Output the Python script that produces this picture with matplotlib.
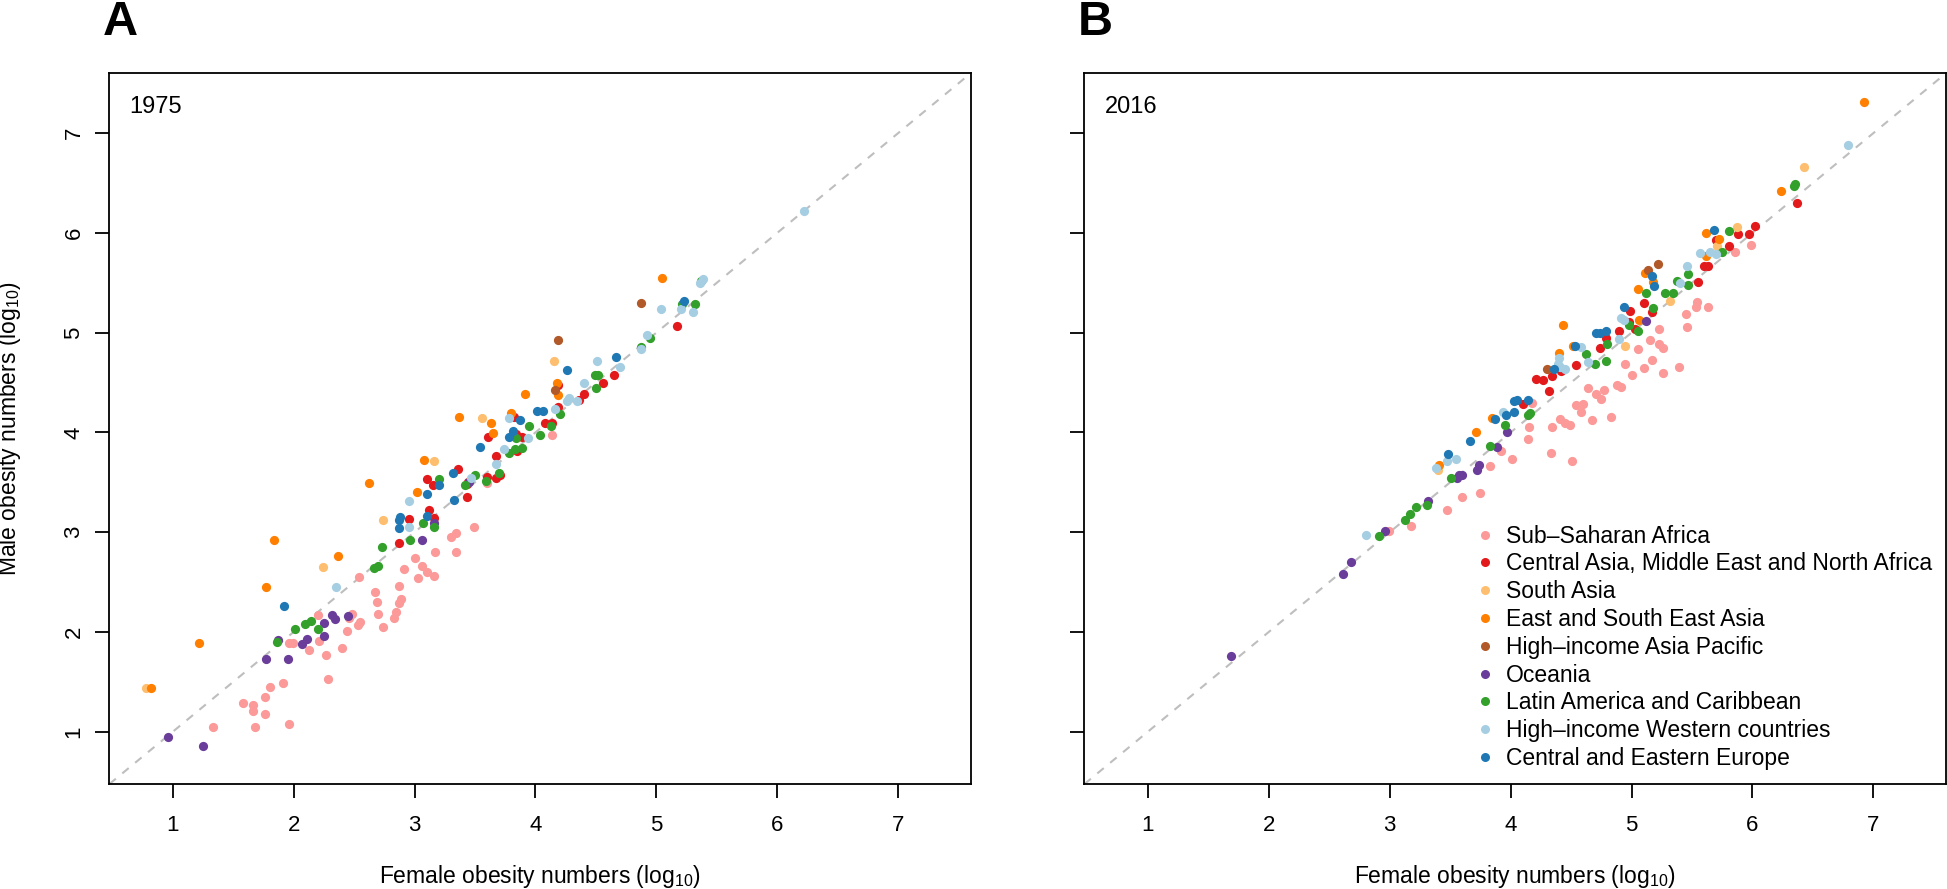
import matplotlib
matplotlib.use("Agg")
import matplotlib.pyplot as plt
from matplotlib.lines import Line2D

plt.rcParams['font.family'] = ['Liberation Sans', 'DejaVu Sans']
plt.rcParams['mathtext.fontset'] = 'custom'
plt.rcParams['mathtext.rm'] = 'Liberation Sans'
plt.rcParams['mathtext.default'] = 'regular'

regions = ['Sub\u2013Saharan Africa', 'Central Asia, Middle East and North Africa',
           'South Asia', 'East and South East Asia', 'High\u2013income Asia Pacific',
           'Oceania', 'Latin America and Caribbean', 'High\u2013income Western countries',
           'Central and Eastern Europe']
colors = ['#FB9A99', '#E31A1C', '#FDBF6F', '#FF7F00', '#B15928',
          '#6A3D9A', '#33A02C', '#A6CEE3', '#1F78B4']

# 1975: female (x) / male (y) obesity numbers, log10, per region
ssa_f_1975 = [2.54, 2.67, 2.69, 2.70, 2.74, 2.48, 2.46, 2.55, 2.53, 2.44, 2.20, 1.96, 1.99, 2.21, 2.13,
              2.27, 2.40, 2.28, 1.91, 1.80, 1.76, 1.58, 1.66, 1.66, 1.76, 1.33, 1.68, 1.96, 4.14, 3.60,
              3.30, 3.34, 3.49, 3.17, 3.34, 3.00, 3.06, 3.10, 3.03, 3.16, 2.91, 2.87, 2.89, 2.87, 2.85, 2.83]
ssa_m_1975 = [2.55, 2.40, 2.30, 2.18, 2.05, 2.18, 2.14, 2.10, 2.07, 2.01, 2.17, 1.89, 1.89, 1.91, 1.82,
              1.77, 1.84, 1.53, 1.49, 1.45, 1.35, 1.29, 1.27, 1.21, 1.18, 1.05, 1.05, 1.08, 3.97, 3.49,
              2.95, 2.99, 3.05, 2.80, 2.80, 2.74, 2.66, 2.60, 2.54, 2.56, 2.63, 2.46, 2.33, 2.29, 2.20, 2.14]
cam_f_1975 = [4.19, 4.40, 4.36, 4.19, 3.82, 4.08, 4.14, 3.61, 3.84, 3.89, 3.85, 3.67, 3.71, 3.67, 3.60,
              3.36, 3.44, 3.43, 3.10, 3.15, 3.43, 3.12, 2.95, 3.16, 2.87, 5.17, 4.65, 4.56]
cam_m_1975 = [4.48, 4.39, 4.33, 4.25, 4.15, 4.09, 4.09, 3.95, 3.98, 3.95, 3.81, 3.76, 3.57, 3.54, 3.55,
              3.63, 3.50, 3.48, 3.53, 3.47, 3.35, 3.22, 3.13, 3.14, 2.89, 5.07, 4.58, 4.50]
sa_f_1975 = [2.74, 2.24, 0.78, 4.15, 3.56, 3.16]
sa_m_1975 = [3.12, 2.65, 1.44, 4.72, 4.14, 3.71]
esea_f_1975 = [2.62, 1.84, 2.37, 1.77, 1.22, 0.82, 4.18, 4.19, 3.91, 3.80, 3.37, 3.63, 3.65, 3.08, 3.02, 5.05]
esea_m_1975 = [3.49, 2.92, 2.76, 2.45, 1.89, 1.44, 4.50, 4.38, 4.39, 4.19, 4.15, 4.09, 3.99, 3.72, 3.40, 5.55]
hiap_f_1975 = [4.19, 4.16, 4.87]
hiap_m_1975 = [4.93, 4.43, 5.30]
oce_f_1975 = [2.32, 2.34, 2.45, 2.25, 2.25, 2.11, 2.07, 1.87, 1.77, 1.95, 0.96, 1.25, 3.45, 3.16, 3.06]
oce_m_1975 = [2.17, 2.13, 2.16, 2.09, 1.96, 1.93, 1.88, 1.92, 1.73, 1.73, 0.95, 0.86, 3.50, 3.09, 2.92]
lac_f_1975 = [2.73, 2.66, 2.70, 2.01, 2.09, 2.14, 2.20, 1.86, 4.20, 4.13, 3.95, 4.04, 3.84, 3.78, 3.83,
              3.89, 3.70, 3.59, 3.50, 3.42, 3.20, 3.07, 3.16, 2.96, 5.37, 5.21, 5.32, 4.95, 4.87, 4.49,
              4.52, 4.50]
lac_m_1975 = [2.85, 2.64, 2.66, 2.03, 2.08, 2.11, 2.03, 1.90, 4.18, 4.06, 4.06, 3.97, 3.94, 3.79, 3.83,
              3.84, 3.59, 3.51, 3.57, 3.47, 3.53, 3.09, 3.05, 2.92, 5.52, 5.29, 5.29, 4.95, 4.86, 4.58,
              4.58, 4.45]
hiw_f_1975 = [2.35, 4.40, 4.28, 4.26, 4.34, 4.16, 3.78, 3.94, 3.74, 3.67, 3.47, 2.95, 2.95, 6.22, 5.39,
              5.36, 5.04, 5.20, 5.30, 4.92, 4.87, 4.51, 4.70]
hiw_m_1975 = [2.45, 4.50, 4.35, 4.31, 4.31, 4.23, 4.14, 3.94, 3.83, 3.68, 3.54, 3.31, 3.05, 6.22, 5.54,
              5.50, 5.24, 5.24, 5.21, 4.98, 4.84, 4.72, 4.66]
cee_f_1975 = [1.92, 4.26, 4.01, 4.06, 3.87, 3.81, 3.78, 3.54, 3.32, 3.20, 3.10, 3.33, 3.10, 2.87, 2.88,
              2.87, 5.23, 4.67]
cee_m_1975 = [2.26, 4.63, 4.21, 4.21, 4.12, 4.01, 3.95, 3.85, 3.59, 3.47, 3.38, 3.32, 3.16, 3.12, 3.15,
              3.04, 5.32, 4.76]

# 2016
ssa_f_2016 = [2.99, 3.18, 3.47, 3.60, 3.75, 4.18, 4.15, 4.14, 3.92, 4.01, 3.83, 4.33, 4.51, 4.34, 4.41,
              4.45, 4.49, 4.67, 4.83, 4.54, 4.58, 4.60, 4.64, 4.71, 4.77, 4.75, 4.88, 4.91, 4.95, 5.00,
              5.05, 5.10, 5.15, 5.17, 5.99, 5.86, 5.54, 5.53, 5.63, 5.45, 5.46, 5.23, 5.39, 5.26, 5.26, 5.23]
ssa_m_2016 = [3.01, 3.06, 3.22, 3.35, 3.39, 4.29, 4.05, 3.93, 3.81, 3.73, 3.66, 3.79, 3.71, 4.05, 4.13,
              4.09, 4.07, 4.12, 4.15, 4.27, 4.20, 4.28, 4.45, 4.39, 4.43, 4.34, 4.48, 4.46, 4.69, 4.58,
              4.84, 4.65, 4.93, 4.73, 5.88, 5.81, 5.31, 5.26, 5.26, 5.19, 5.06, 5.04, 4.66, 4.60, 4.85, 4.89]
cam_f_2016 = [4.10, 4.21, 4.27, 4.34, 4.42, 4.32, 4.54, 4.74, 4.79, 4.90, 4.99, 4.98, 5.03, 5.10, 6.37,
              6.02, 5.88, 5.97, 5.70, 5.81, 5.60, 5.63, 5.55, 5.17]
cam_m_2016 = [4.28, 4.54, 4.53, 4.57, 4.62, 4.42, 4.68, 4.85, 4.95, 5.02, 5.22, 5.11, 5.04, 5.30, 6.30,
              6.07, 5.99, 5.99, 5.93, 5.87, 5.67, 5.67, 5.51, 5.21]
sa_f_2016 = [4.95, 6.43, 5.87, 5.71, 5.32, 3.40]
sa_m_2016 = [4.87, 6.66, 6.06, 5.87, 5.32, 3.62]
esea_f_2016 = [3.41, 3.71, 3.85, 4.52, 4.40, 4.43, 5.06, 5.05, 5.11, 6.92, 6.24, 5.62, 5.72, 5.62, 5.18]
esea_m_2016 = [3.67, 4.00, 4.14, 4.87, 4.80, 5.08, 5.13, 5.44, 5.60, 7.31, 6.42, 6.00, 5.94, 5.77, 5.51]
hiap_f_2016 = [4.30, 5.14, 5.22]
hiap_m_2016 = [4.64, 5.63, 5.69]
oce_f_2016 = [1.69, 2.61, 2.68, 2.96, 3.32, 3.57, 3.60, 3.56, 3.72, 3.74, 3.89, 3.97, 5.12]
oce_m_2016 = [1.76, 2.58, 2.70, 3.01, 3.31, 3.57, 3.57, 3.54, 3.62, 3.67, 3.85, 4.00, 5.12]
lac_f_2016 = [2.91, 3.13, 3.17, 3.22, 3.31, 3.51, 3.83, 3.95, 4.16, 4.14, 4.70, 4.79, 4.62, 4.80, 4.98,
              5.05, 5.12, 6.34, 6.35, 5.81, 5.75, 5.47, 5.38, 5.47, 5.28, 5.34, 5.18]
lac_m_2016 = [2.96, 3.12, 3.18, 3.25, 3.27, 3.54, 3.86, 4.07, 4.19, 4.17, 4.69, 4.72, 4.79, 4.89, 5.08,
              5.02, 5.40, 6.47, 6.49, 6.02, 5.81, 5.59, 5.52, 5.48, 5.40, 5.40, 5.25]
hiw_f_2016 = [2.80, 3.38, 3.47, 3.55, 3.94, 4.64, 4.58, 4.90, 4.91, 4.94, 4.40, 4.39, 4.45, 4.41, 6.79,
              5.57, 5.65, 5.70, 5.46, 5.40]
hiw_m_2016 = [2.97, 3.64, 3.71, 3.73, 4.20, 4.71, 4.86, 4.94, 5.15, 5.13, 4.75, 4.69, 4.64, 4.66, 6.88,
              5.80, 5.81, 5.79, 5.67, 5.50]
cee_f_2016 = [3.48, 3.66, 3.87, 3.96, 4.03, 4.03, 4.05, 4.14, 4.53, 4.71, 4.74, 4.79, 4.94, 4.36, 5.68,
              5.17, 5.19]
cee_m_2016 = [3.78, 3.91, 4.13, 4.17, 4.20, 4.31, 4.33, 4.32, 4.87, 5.00, 5.00, 5.02, 5.26, 4.64, 6.03,
              5.57, 5.47]

female_1975 = [ssa_f_1975, cam_f_1975, sa_f_1975, esea_f_1975, hiap_f_1975, oce_f_1975, lac_f_1975, hiw_f_1975, cee_f_1975]
male_1975 = [ssa_m_1975, cam_m_1975, sa_m_1975, esea_m_1975, hiap_m_1975, oce_m_1975, lac_m_1975, hiw_m_1975, cee_m_1975]
female_2016 = [ssa_f_2016, cam_f_2016, sa_f_2016, esea_f_2016, hiap_f_2016, oce_f_2016, lac_f_2016, hiw_f_2016, cee_f_2016]
male_2016 = [ssa_m_2016, cam_m_2016, sa_m_2016, esea_m_2016, hiap_m_2016, oce_m_2016, lac_m_2016, hiw_m_2016, cee_m_2016]

lims = (0.475, 7.6)
ticks = [1, 2, 3, 4, 5, 6, 7]


def panel(ax, fx, my, year, ylabels=True):
    ax.plot(lims, lims, color='#BEBEBE', lw=1.5, dashes=(4, 4), zorder=1)
    for x, y, c in zip(fx, my, colors):
        ax.scatter(x, y, s=44, color=c, lw=0, zorder=2)
    ax.set_xlim(lims); ax.set_ylim(lims)
    ax.set_xticks(ticks); ax.set_yticks(ticks)
    ax.tick_params(length=10, width=1.3, labelsize=16)
    ax.tick_params(axis='x', pad=12)
    ax.tick_params(axis='y', pad=8, labelrotation=90)
    plt.setp(ax.get_yticklabels(), va='center')
    if not ylabels:
        ax.set_yticklabels([])
    for s in ax.spines.values():
        s.set_linewidth(1.3)
    ax.text(0.0233, 0.944, year, transform=ax.transAxes, fontsize=17, va='baseline')


fig = plt.figure(figsize=(19.47, 8.89), dpi=100)
axA = fig.add_axes([0.0562, 0.1181, 0.4423, 0.7994])
axB = fig.add_axes([0.557, 0.1181, 0.4424, 0.7994])
panel(axA, female_1975, male_1975, '1975')
panel(axB, female_2016, male_2016, '2016', ylabels=False)

handles = [Line2D([], [], ls='none', marker='o', ms=6.5, mfc=c, mec='none') for c in colors]
axB.legend(handles, regions, loc='upper left', bbox_to_anchor=(0.458, 0.365), frameon=False,
           fontsize=16.5, handlelength=0.5, handletextpad=0.68, labelspacing=0.21,
           borderpad=0, borderaxespad=0)

xlab = 'Female obesity numbers (log$_{10}$)'
fig.text(540 / 1947, 1 - 876 / 889, xlab, ha='center', va='center', fontsize=16.5)
fig.text(1515 / 1947, 1 - 876 / 889, xlab, ha='center', va='center', fontsize=16.5)
fig.text(10 / 1947, 0.5178, 'Male obesity numbers (log$_{10}$)', rotation=90,
         ha='center', va='center', fontsize=16.5)
fig.text(103 / 1947, 1 - 35 / 889, 'A', fontsize=35, fontweight='bold', va='baseline')
fig.text(1078 / 1947, 1 - 35 / 889, 'B', fontsize=35, fontweight='bold', va='baseline')

fig.savefig('out.png', dpi=100)
